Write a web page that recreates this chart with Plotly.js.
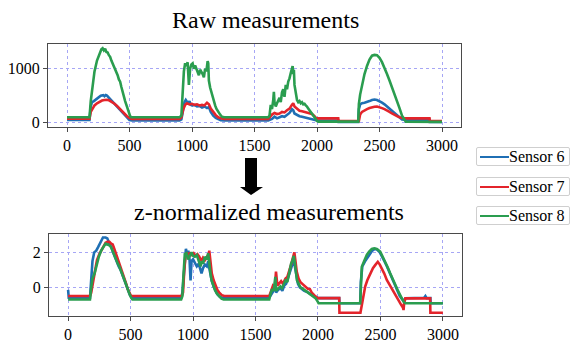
<!DOCTYPE html>
<html>
<head>
<meta charset="utf-8">
<script src="https://cdn.plot.ly/plotly-3.0.1.min.js"></script>
<style>
html,body{margin:0;padding:0;background:#fff;}
.leg{position:absolute;left:476px;width:92px;height:17px;border:1px solid #cfcfcf;border-radius:2px;background:#fff;
     font-family:'Liberation Serif';font-size:16px;line-height:17px;color:#000;z-index:5;}
.sw{position:absolute;left:3px;top:8px;width:29px;height:2px;}
.lt{position:absolute;left:32px;top:0;white-space:nowrap;}
</style>
</head>
<body>
<div class="leg" style="top:147px"><span class="sw" style="background:#1f6fb4"></span><span class="lt" id="l0">Sensor 6</span></div>
<div class="leg" style="top:177px"><span class="sw" style="background:#e3242b"></span><span class="lt" id="l1">Sensor 7</span></div>
<div class="leg" style="top:206px"><span class="sw" style="background:#2a9d4f"></span><span class="lt" id="l2">Sensor 8</span></div>
<div id="chart"></div>
<script>
// ---------- data ----------
const seriesNames = ["Sensor 6", "Sensor 7", "Sensor 8"];
const seriesColors = ["#1f6fb4", "#e3242b", "#2a9d4f"];
const xTicks = [0, 500, 1000, 1500, 2000, 2500, 3000];
const rawYTicks = [0, 1000];
const zYTicks = [0, 2];

// Raw measurements
const raw6X = [0,180,190,200,215,230,250,270,290,300,310,320,340,360,380,400,420,440,460,480,500,520,
  900,915,930,940,950,960,970,980,990,1000,1020,1040,1060,1080,1100,1120,1135,1150,1170,1190,1210,1230,1260,
  1610,1640,1660,1680,1700,1720,1740,1760,1780,1800,1810,1820,1840,1860,1880,1900,1920,1940,1960,1980,2000,2170,2172,
  2330,2335,2345,2360,2380,2400,2420,2440,2460,2480,2500,2520,2540,2560,2580,2600,2620,2640,2660,2680,2700,2900,2902,3000];
const raw6Y = [50,50,300,380,400,430,470,500,510,490,510,500,450,400,350,300,240,190,140,90,50,40,
  40,60,250,380,420,380,350,400,330,320,330,300,310,280,300,270,290,200,130,90,60,45,40,
  40,70,110,80,100,120,110,150,180,250,230,170,140,120,110,100,90,80,70,55,40,40,15,
  15,250,340,360,370,380,400,420,430,420,400,370,340,300,260,210,170,130,90,60,55,60,15,15];

const raw7X = [0,180,190,200,220,240,260,280,300,320,340,360,380,400,420,440,460,480,500,520,
  900,915,930,945,960,980,1000,1020,1040,1060,1080,1100,1120,1135,1150,1170,1190,1210,1230,1260,
  1610,1640,1660,1680,1700,1720,1740,1760,1780,1800,1810,1820,1840,1860,1880,1900,1920,1940,1960,1980,1995,2170,2172,
  2335,2345,2360,2380,2400,2420,2440,2460,2480,2500,2520,2540,2560,2580,2600,2620,2640,2660,2680,2700,2900,2902,3000];
const raw7Y = [75,75,200,250,320,360,390,410,420,425,410,385,350,310,260,210,160,120,85,70,
  70,100,250,330,360,340,350,330,340,320,330,320,370,340,260,190,140,100,80,70,
  70,150,180,160,170,200,190,230,260,330,360,300,250,220,210,200,190,180,160,120,80,80,30,
  30,150,200,230,250,270,285,295,300,290,270,250,230,200,170,140,120,100,85,80,80,30,30];

const raw8X = [0,180,190,205,220,240,255,265,275,285,295,305,315,325,335,345,355,365,375,385,395,405,415,425,435,445,455,465,475,485,495,505,515,
  900,915,925,935,945,955,965,975,985,995,1005,1015,1025,1035,1045,1055,1065,1075,1085,1095,1105,1115,1125,1130,1135,1145,1155,1165,1175,1185,1195,1205,1215,1225,1240,1260,
  1610,1620,1630,1640,1650,1655,1660,1670,1680,1690,1700,1710,1720,1730,1740,1750,1760,1770,1780,1790,1800,1805,1810,1815,1820,1830,1840,1850,1860,1870,1880,1890,1900,1910,1920,1930,1940,1950,1960,1970,1980,1990,2000,2010,
  2330,2335,2345,2360,2380,2400,2420,2440,2460,2480,2500,2520,2540,2560,2580,2600,2620,2640,2660,2680,2700,2710,3000];
const raw8Y = [100,100,400,700,950,1150,1260,1300,1360,1380,1340,1370,1310,1300,1250,1220,1150,1100,1030,990,920,880,800,760,660,560,470,400,330,250,180,120,100,
  100,130,600,950,1100,1050,1120,700,1000,1080,1100,1000,1060,1000,950,880,980,950,900,840,1000,950,1140,1100,780,650,560,470,420,320,260,220,180,150,110,100,
  100,130,330,250,420,570,380,300,360,420,460,380,560,620,480,700,620,760,820,920,1000,1050,900,980,700,580,420,380,400,360,380,340,350,320,300,260,230,200,180,140,100,70,30,20,
  20,350,520,700,900,1050,1170,1240,1255,1250,1200,1120,1020,900,780,660,540,400,270,130,40,20,15];

// z-normalized measurements
const z6X = [0,5,175,185,195,209,225,240,257,270,279,300,314,330,345,360,375,390,405,420,435,450,465,480,495,510,
  905,915,925,935,943,952,962,972,980,988,1000,1015,1030,1045,1060,1068,1080,1095,1110,1122,1130,1140,1150,1165,1180,1195,1215,1235,
  1610,1625,1640,1655,1665,1680,1700,1715,1730,1745,1760,1775,1790,1805,1815,1825,1840,1855,1870,1890,1910,1930,1950,1975,2000,2170,2172,
  2338,2343,2355,2378,2395,2415,2435,2455,2475,2495,2515,2535,2555,2575,2595,2615,2635,2655,2675,2690,2700,2850,2860,2870,2900,2902,3000];
const z6Y = [-0.15,-0.6,-0.6,0.5,1.5,2.0,2.1,2.3,2.55,2.75,2.85,2.85,2.8,2.5,2.3,2.0,1.7,1.45,1.2,1.0,0.7,0.4,0.1,-0.2,-0.45,-0.6,
  -0.6,-0.3,0.8,1.9,2.2,1.9,2.1,1.6,0.4,1.5,1.6,1.4,1.2,1.35,1.0,0.8,1.1,1.3,1.2,1.5,1.1,0.7,0.35,0.05,-0.2,-0.4,-0.55,-0.6,
  -0.6,-0.4,-0.25,0.1,-0.3,-0.15,-0.05,-0.2,0.1,0.2,0.5,0.8,1.2,1.6,1.2,0.6,0.2,0.0,-0.1,-0.2,-0.25,-0.35,-0.45,-0.55,-0.62,-0.62,-0.91,
  -0.91,0.3,1.2,1.5,1.7,1.9,2.1,2.2,2.15,2.0,1.75,1.45,1.15,0.8,0.45,0.1,-0.2,-0.5,-0.7,-0.75,-0.62,-0.6,-0.5,-0.62,-0.62,-0.91,-0.91];

const z7X = [0,175,185,200,215,231,250,265,285,300,315,331,345,357,370,385,397,410,425,437,450,465,477,490,504,
  910,920,930,940,950,960,975,990,1005,1020,1035,1050,1065,1080,1095,1110,1125,1130,1140,1150,1165,1180,1195,1210,1230,1250,
  1610,1625,1640,1655,1664,1675,1690,1705,1720,1740,1755,1770,1785,1800,1811,1820,1830,1845,1860,1875,1890,1905,1920,1935,1950,1970,1990,2000,2170,2172,
  2340,2350,2365,2378,2395,2418,2440,2458,2470,2479,2495,2511,2530,2551,2570,2591,2610,2631,2650,2666,2680,2685,2690,2700,2898,2900,3000];
const z7Y = [-0.5,-0.5,-0.3,0.3,0.9,1.56,1.9,2.1,2.4,2.55,2.6,2.6,2.5,2.45,2.2,1.9,1.56,1.35,1.05,0.8,0.5,0.2,-0.1,-0.35,-0.5,
  -0.5,-0.3,1.0,1.8,2.0,1.85,1.95,1.85,1.95,1.8,1.9,1.75,1.5,1.7,1.55,1.75,1.9,2.1,1.2,0.8,0.4,0.1,-0.15,-0.3,-0.45,-0.5,
  -0.5,-0.2,0.1,0.0,0.9,0.1,0.2,0.35,0.2,0.5,0.6,0.9,1.3,1.7,2.0,1.5,0.9,0.5,0.3,0.2,0.1,0.0,-0.1,-0.1,-0.3,-0.45,-0.55,-0.62,-0.62,-1.45,
  -1.45,-1.1,-0.4,0.04,0.4,0.8,1.1,1.27,1.4,1.46,1.3,1.1,0.8,0.42,0.2,-0.06,-0.3,-0.54,-0.8,-1.0,-1.15,-1.3,-0.9,-0.63,-0.63,-1.45,-1.45];

const z8X = [0,175,185,195,212,230,246,265,283,300,315,330,344,358,371,385,398,411,425,438,451,465,478,490,505,515,
  905,915,921,934,948,960,974,988,1000,1014,1030,1041,1050,1060,1070,1080,1094,1110,1121,1129,1140,1148,1160,1175,1190,1201,1215,1228,1245,
  1610,1620,1632,1645,1659,1665,1680,1699,1712,1725,1740,1755,1766,1775,1785,1795,1806,1815,1825,1832,1846,1860,1872,1890,1913,1930,1953,1980,1998,2005,
  2338,2345,2351,2370,2391,2410,2431,2450,2471,2498,2520,2538,2558,2578,2598,2618,2638,2658,2675,2685,2700,3000];
const z8Y = [-0.7,-0.7,0.0,0.5,0.8,1.3,1.75,2.1,2.35,2.5,2.45,2.4,2.3,2.05,1.75,1.55,1.35,1.18,0.95,0.7,0.42,0.15,-0.15,-0.35,-0.6,-0.7,
  -0.7,-0.5,0.4,1.9,1.95,1.6,1.8,2.0,1.8,1.75,1.85,1.65,1.45,1.2,1.5,1.35,1.75,1.6,1.95,1.3,0.8,0.42,0.1,-0.15,-0.35,-0.45,-0.58,-0.65,-0.7,
  -0.7,-0.4,-0.1,-0.2,0.6,-0.2,-0.1,0.05,-0.05,0.15,0.4,0.3,0.75,0.9,1.35,1.5,1.8,1.4,0.8,0.4,0.2,0.0,-0.05,-0.15,-0.25,-0.35,-0.5,-0.62,-0.82,-0.91,
  -0.91,0.6,1.18,1.5,1.85,2.05,2.2,2.23,2.2,2.05,1.75,1.46,1.15,0.8,0.45,0.13,-0.15,-0.44,-0.7,-0.82,-0.91,-0.91];

const rawXs = [raw6X, raw7X, raw8X], rawYs = [raw6Y, raw7Y, raw8Y];
const zXs = [z6X, z7X, z8X], zYs = [z6Y, z7Y, z8Y];

// legend labels come from the series names
for (var q = 0; q < 3; q++) document.getElementById("l" + q).textContent = seriesNames[q];

// ---------- figure ----------
var W = 579, H = 344;
function pxX(v) { return v / W; }       // pixel -> paper (x)
function pxY(v) { return 1 - v / H; }   // pixel -> paper (y)

var traces = [];
for (var i = 0; i < 3; i++) {
  traces.push({x: rawXs[i], y: rawYs[i], xaxis: "x", yaxis: "y", type: "scatter", mode: "lines",
    name: seriesNames[i], showlegend: false, line: {color: seriesColors[i], width: 2.6}});
}
for (var j = 0; j < 3; j++) {
  traces.push({x: zXs[j], y: zYs[j], xaxis: "x2", yaxis: "y2", type: "scatter", mode: "lines",
    name: seriesNames[j], showlegend: false, line: {color: seriesColors[j], width: 2.6}});
}

function axisStyle(extra) {
  var a = {
    showline: true, mirror: true, linecolor: "#4a4a4a", linewidth: 1,
    ticks: "outside", ticklen: 4, tickcolor: "#4a4a4a",
    showgrid: true, gridcolor: "#a6a6f5", gridwidth: 1, griddash: "dot",
    zeroline: false, tickfont: {family: "Liberation Serif", size: 16, color: "#000"}
  };
  for (var k in extra) a[k] = extra[k];
  return a;
}

var annotations = [
  {text: "Raw measurements", xref: "paper", yref: "paper", x: pxX(265), y: pxY(20), xanchor: "center", yanchor: "middle",
   showarrow: false, font: {family: "Liberation Serif", size: 24, color: "#000"}},
  {text: "z-normalized measurements", xref: "paper", yref: "paper", x: pxX(269), y: pxY(212), xanchor: "center", yanchor: "middle",
   showarrow: false, font: {family: "Liberation Serif", size: 24, color: "#000"}}
];
var arrowPath = "M " + pxX(245) + " " + pxY(158) + " L " + pxX(257) + " " + pxY(158) + " L " + pxX(257) + " " + pxY(187) +
  " L " + pxX(263) + " " + pxY(187) + " L " + pxX(251) + " " + pxY(195) + " L " + pxX(240) + " " + pxY(187) +
  " L " + pxX(245) + " " + pxY(187) + " Z";
var shapes = [{type: "path", xref: "paper", yref: "paper", path: arrowPath, fillcolor: "#000", line: {color: "#000", width: 0}}];

var layout = {
  width: W, height: H, margin: {l: 0, r: 0, t: 0, b: 0},
  paper_bgcolor: "#fff", plot_bgcolor: "#fff", showlegend: false,
  font: {family: "Liberation Serif", color: "#000"},
  xaxis: axisStyle({domain: [pxX(48), pxX(461)], range: [-152, 3152], tickvals: xTicks, anchor: "y"}),
  yaxis: axisStyle({domain: [pxY(127), pxY(44)], range: [-80, 1457], tickvals: rawYTicks, anchor: "x"}),
  xaxis2: axisStyle({domain: [pxX(49), pxX(462)], range: [-153, 3153], tickvals: xTicks, anchor: "y2"}),
  yaxis2: axisStyle({domain: [pxY(316), pxY(234)], range: [-1.64, 3.05], tickvals: zYTicks, anchor: "x2"}),
  annotations: annotations, shapes: shapes
};

function draw() { Plotly.newPlot("chart", traces, layout, {staticPlot: true}); }
draw();
if (document.fonts && document.fonts.ready) document.fonts.ready.then(draw);
</script>
</body>
</html>
